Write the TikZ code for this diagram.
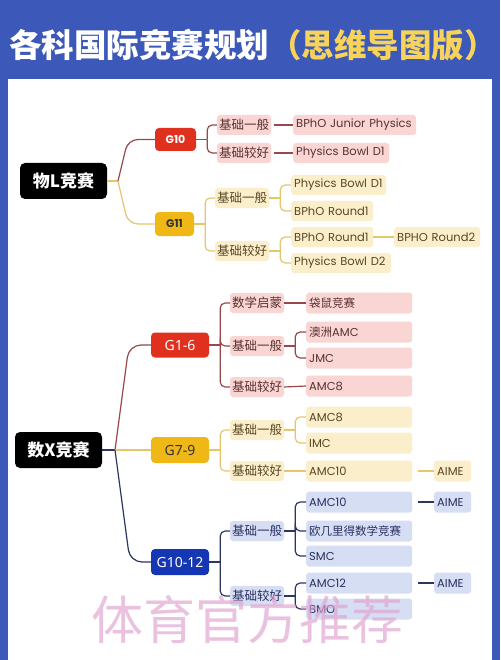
\documentclass[tikz,border=0pt]{standalone}
\usepackage{fontspec}
\newfontfamily\cjk{Noto Sans CJK SC}
\newfontfamily\pop{Poppins}
\newfontfamily\nsans{Noto Sans}
\definecolor{bgblue}{HTML}{3C58B8}
\definecolor{tyel}{HTML}{F8D35A}
\definecolor{gred}{HTML}{E0301E}
\definecolor{gyel}{HTML}{EFB817}
\definecolor{gblue}{HTML}{1637B3}
\definecolor{bpink}{HTML}{F9D6D4}
\definecolor{byel}{HTML}{FBEFCB}
\definecolor{bblue}{HTML}{D6DEF4}
\definecolor{lred}{HTML}{98484A}
\definecolor{lyel}{HTML}{E6C66A}
\definecolor{lblue}{HTML}{2E355F}
\definecolor{tred}{HTML}{5A2F30}
\definecolor{tyl}{HTML}{5A4522}
\definecolor{tbl}{HTML}{2A3060}
\definecolor{wmc}{HTML}{E0A2CE}
\begin{document}
\begin{tikzpicture}[x=1pt,y=-1pt,
  rootbox/.style={fill=black, text=white, rounded corners=5pt, minimum width=87pt, minimum height=36pt, inner sep=0pt, font=\cjk\bfseries\fontsize{17}{17}\selectfont},
  gradebox/.style={rounded corners=4pt, minimum width=58pt, minimum height=25pt, inner sep=0pt},
  midbox/.style={rounded corners=3pt, minimum width=54pt, minimum height=20pt, inner sep=0pt, font=\cjk\fontsize{12.5}{12.5}\selectfont},
  leafbox/.style={rounded corners=3pt, anchor=west, minimum height=20pt, inner xsep=3pt, inner ysep=0pt, align=left, font=\pop\fontsize{11.5}{12}\selectfont},
  pk/.style={fill=bpink, text=tred},
  yl/.style={fill=byel, text=tyl},
  bl/.style={fill=bblue, text=tbl},
  lr/.style={draw=lred, line width=1.2pt},
  ly/.style={draw=lyel, line width=1.2pt},
  lb/.style={draw=lblue, line width=1.2pt},
  brk/.style={rounded corners=5pt}
]
\useasboundingbox (0,0) rectangle (500,660);
\fill[bgblue] (0,0) rectangle (500,660);
\fill[white] (8,79) rectangle (492,660);
\node[anchor=west, inner sep=0pt, text=white, font=\cjk\bfseries\fontsize{32.5}{33}\selectfont] (title) at (9,45) {各科国际竞赛规划\textcolor{tyel}{（思维导图版）}};

% ---------- Physics ----------
\node[rootbox] (phy) at (63.5,181) {物L竞赛};
\node[gradebox, fill=gred, text=white, minimum width=41pt, minimum height=23pt, font=\pop\bfseries\fontsize{11}{11}\selectfont] (g10) at (175.5,139.5) {G10};
\node[gradebox, fill=gyel, text=black!80, minimum width=39pt, minimum height=24pt, font=\pop\bfseries\fontsize{11}{11}\selectfont] (g11) at (174.5,224) {G11};

\node[midbox, pk] (p1) at (244,125) {基础一般};
\node[midbox, pk] (p2) at (244,153) {基础较好};
\node[midbox, yl] (p3) at (242,198) {基础一般};
\node[midbox, yl] (p4) at (242,251) {基础较好};

\node[leafbox, pk, text width=117pt] (l1) at (293,125) {BPhO Junior Physics};
\node[leafbox, pk, text width=90pt] (l2) at (293,153) {Physics Bowl D1};
\node[leafbox, yl, text width=89pt] (l3) at (291,185) {Physics Bowl D1};
\node[leafbox, yl, text width=76pt] (l4) at (291,211) {BPhO Round1};
\node[leafbox, yl, text width=76pt] (l5) at (291,237) {BPhO Round1};
\node[leafbox, yl, text width=94pt] (l6) at (291,263) {Physics Bowl D2};
\node[leafbox, yl, text width=80pt] (l7) at (394,237) {BPHO Round2};

\coordinate (pj) at (118,181);
\draw[ly] (phy.east) -- (pj);
\draw[lr, rounded corners=10pt] (pj) -- (128,139.5) -- (g10.west);
\draw[ly, rounded corners=10pt] (pj) -- (128,224) -- (g11.west);

\draw[lr] (g10.east) -- ++(11,0) coordinate (j10);
\foreach \c in {p1,p2} \draw[lr, brk] (j10) |- (\c.west);
\draw[ly] (g11.east) -- ++(11,0) coordinate (j11);
\foreach \c in {p3,p4} \draw[ly, brk] (j11) |- (\c.west);
\draw[lr] (p1.east) ++(3,0) -- (l1.west);
\draw[lr] (p2.east) ++(3,0) -- (l2.west);
\draw[ly] (p3.east) -- ++(11,0) coordinate (j3);
\foreach \c in {l3,l4} \draw[ly, brk] (j3) |- (\c.west);
\draw[ly] (p4.east) -- ++(11,0) coordinate (j4);
\foreach \c in {l5,l6} \draw[ly, brk] (j4) |- (\c.west);
\draw[ly] (l5.east) -- (l7.west);

% ---------- Math ----------
\node[rootbox] (mat) at (58.5,450) {数X竞赛};
\node[gradebox, fill=gred, text=white, font=\nsans\fontsize{14}{14}\selectfont] (g16) at (180,345) {G1-6};
\node[gradebox, fill=gyel, text=black!80, minimum height=26pt, font=\nsans\fontsize{14}{14}\selectfont] (g79) at (180,450) {G7-9};
\node[gradebox, fill=gblue, text=white, minimum height=26pt, font=\nsans\fontsize{14}{14}\selectfont] (g1012) at (180,562) {G10-12};

\node[midbox, pk] (m1) at (257,303) {数学启蒙};
\node[midbox, pk] (m2) at (257,346) {基础一般};
\node[midbox, pk] (m3) at (257,387) {基础较好};
\node[midbox, yl] (m4) at (257,430) {基础一般};
\node[midbox, yl] (m5) at (257,471) {基础较好};
\node[midbox, bl] (m6) at (257,531) {基础一般};
\node[midbox, bl] (m7) at (257,596) {基础较好};

\node[leafbox, pk, text width=100pt, minimum height=21pt] (a1) at (306,303) {{\cjk 袋鼠竞赛}};
\node[leafbox, pk, text width=100pt, minimum height=21pt] (a2) at (306,332) {{\cjk 澳洲}AMC};
\node[leafbox, pk, text width=100pt, minimum height=21pt] (a3) at (306,358) {JMC};
\node[leafbox, pk, text width=100pt, minimum height=21pt] (a4) at (306,386) {AMC8};
\node[leafbox, yl, text width=100pt, minimum height=21pt] (b1) at (306,417) {AMC8};
\node[leafbox, yl, text width=100pt, minimum height=21pt] (b2) at (306,443) {IMC};
\node[leafbox, yl, text width=100pt, minimum height=21pt] (b3) at (306,471) {AMC10};
\node[leafbox, yl, text width=31pt, minimum height=21pt] (b4) at (434,471) {AIME};
\node[leafbox, bl, text width=100pt, minimum height=21pt] (c1) at (306,502) {AMC10};
\node[leafbox, bl, text width=100pt, minimum height=21pt] (c2) at (306,531) {{\cjk 欧几里得数学竞赛}};
\node[leafbox, bl, text width=100pt, minimum height=21pt] (c3) at (306,556) {SMC};
\node[leafbox, bl, text width=100pt, minimum height=21pt] (c4) at (306,583) {AMC12};
\node[leafbox, bl, text width=100pt, minimum height=21pt] (c5) at (306,609) {BMO};
\node[leafbox, bl, text width=31pt, minimum height=21pt] (c6) at (434,502) {AIME};
\node[leafbox, bl, text width=31pt, minimum height=21pt] (c7) at (434,583) {AIME};

\coordinate (mj) at (115,450);
\draw[lb] (mat.east) -- (mj);
\draw[lr, rounded corners=12pt] (mj) -- (129,345) -- (g16.west);
\draw[ly] (mj) -- (g79.west);
\draw[lb, rounded corners=12pt] (mj) -- (130,562) -- (g1012.west);

\draw[lr] (g16.east) -- ++(11,0) coordinate (k1);
\foreach \c in {m1,m2,m3} \draw[lr, brk] (k1) |- (\c.west);
\draw[ly] (g79.east) -- ++(11,0) coordinate (k2);
\foreach \c in {m4,m5} \draw[ly, brk] (k2) |- (\c.west);
\draw[lb] (g1012.east) -- ++(11,0) coordinate (k3);
\foreach \c in {m6,m7} \draw[lb, brk] (k3) |- (\c.west);

\draw[lr] (m1.east) -- (a1.west);
\draw[lr] (m2.east) -- ++(11,0) coordinate (k4);
\foreach \c in {a2,a3} \draw[lr, brk] (k4) |- (\c.west);
\draw[lr] (m3.east) -- (a4.west);
\draw[ly] (m4.east) -- ++(11,0) coordinate (k5);
\foreach \c in {b1,b2} \draw[ly, brk] (k5) |- (\c.west);
\draw[ly] (m5.east) -- (b3.west);
\draw[ly] (b3.east) ++(6,0) -- (b4.west);
\draw[lb] (m6.east) -- ++(11,0) coordinate (k6);
\foreach \c in {c1,c2,c3} \draw[lb, brk] (k6) |- (\c.west);
\draw[lb] (m7.east) -- ++(11,0) coordinate (k7);
\foreach \c in {c4,c5} \draw[lb, brk] (k7) |- (\c.west);
\draw[lb] (c1.east) ++(6,0) -- (c6.west);
\draw[lb] (c4.east) ++(6,0) -- (c7.west);

% watermark
\node[text=wmc, opacity=0.65, inner sep=0pt, font=\cjk\fontsize{52}{52}\selectfont] (wm) at (247,620) {体育官方推荐};
\end{tikzpicture}
\end{document}
